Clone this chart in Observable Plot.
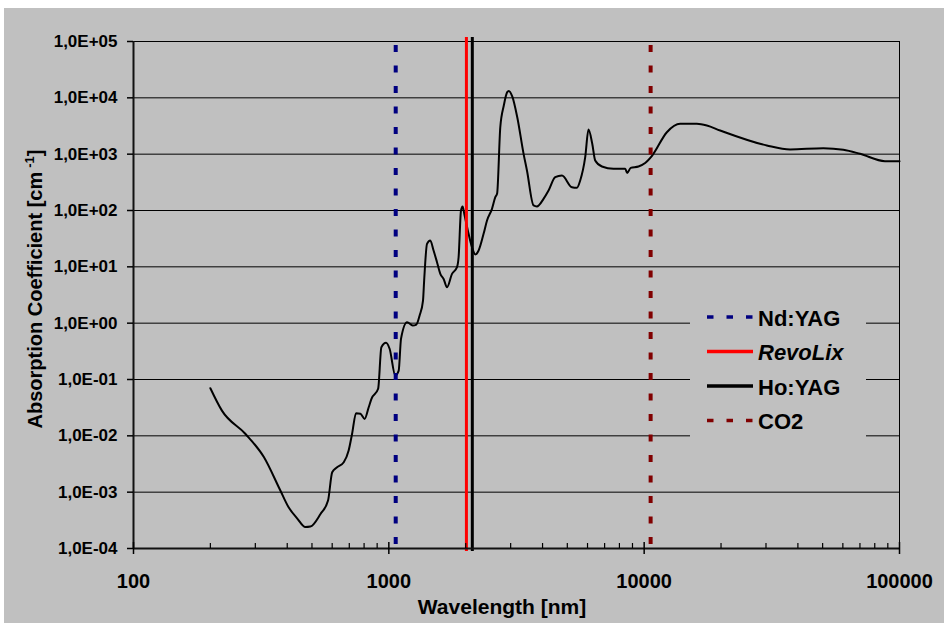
<!DOCTYPE html>
<html><head><meta charset="utf-8">
<script src="https://cdn.jsdelivr.net/npm/d3@7"></script>
<script src="https://cdn.jsdelivr.net/npm/@observablehq/plot@0.6"></script>
<style>
html,body{margin:0;padding:0;background:#fff;}
#chart{position:absolute;left:4px;top:8px;width:940px;height:615px;background:#c0c0c0;overflow:hidden;}
</style></head><body><div id="chart"></div>
<script>
// Water absorption spectrum
const wavelength = [200, 222, 274, 324, 376, 405, 438, 471, 493, 540, 578, 600, 627, 666, 696, 718, 744, 774, 804, 834, 855, 908, 935, 975, 1007, 1060, 1093, 1116, 1179, 1240, 1282, 1320, 1361, 1375, 1411, 1453, 1497, 1544, 1591, 1639, 1690, 1768, 1849, 1876, 1917, 1945, 1975, 2053, 2117, 2181, 2247, 2350, 2424, 2535, 2612, 2655, 2732, 2820, 2908, 2950, 3043, 3184, 3371, 3475, 3687, 3802, 4035, 4222, 4484, 4764, 5212, 5453, 5617, 5876, 6053, 6259, 6430, 6831, 7585, 8428, 8582, 8856, 9500, 10090, 10750, 12270, 13830, 16080, 17600, 19840, 30220, 37270, 50330, 60250, 70040, 87740, 100000];
const absorption = [0.070, 0.028, 0.0109, 0.0042, 0.00107, 5.4e-4, 3.4e-4, 2.4e-4, 2.45e-4, 4.1e-4, 7.1e-4, 2.26e-3, 2.77e-3, 3.4e-3, 5.5e-3, 0.0109, 0.0252, 0.0246, 0.0200, 0.0322, 0.0454, 0.0684, 0.374, 0.448, 0.351, 0.118, 0.144, 0.527, 1.04, 0.908, 0.946, 1.37, 2.52, 5.7, 25.6, 29.3, 19.5, 12.1, 7.5, 6.1, 4.35, 7.5, 9.85, 14.8, 100, 118, 87, 38.5, 22.3, 16.6, 19.5, 38.5, 66.4, 107, 172, 200, 3010, 7310, 12600, 13200, 10600, 4530, 1014, 513, 123, 118, 161, 226, 390, 418, 259, 253, 341, 883, 2740, 1546, 771, 604, 550, 550, 463, 572, 604, 697, 946, 2454, 3460, 3460, 3228, 2630, 1425, 1210, 1276, 1195, 1014, 750, 750];

const xTicks = [100, 1000, 10000, 100000];
const xTickLabels = ["100", "1000", "10000", "100000"];
const xMinorTicks = [200, 300, 400, 500, 600, 700, 800, 900, 2000, 3000, 4000, 5000, 6000, 7000, 8000, 9000, 20000, 30000, 40000, 50000, 60000, 70000, 80000, 90000];
const yTicks = [1e-4, 1e-3, 1e-2, 1e-1, 1e0, 1e1, 1e2, 1e3, 1e4, 1e5];
const yTickLabels = ["1,0E-04", "1,0E-03", "1,0E-02", "1,0E-01", "1,0E+00", "1,0E+01", "1,0E+02", "1,0E+03", "1,0E+04", "1,0E+05"];

const laserNames = ["Nd:YAG", "RevoLix", "Ho:YAG", "CO2"];
const laserWavelengths = [1064, 2013, 2123, 10600];
const laserColors = ["#000080", "#ff0000", "#000000", "#800000"];
const laserDashed = [true, false, false, true];
const laserItalic = [false, true, false, false];

const font = "'Liberation Sans', Arial, sans-serif";
const W = 940, H = 615;
const data = wavelength.map((w, i) => ({w, a: absorption[i]}));

const laserMarks = laserWavelengths.map((w, i) => laserDashed[i]
  ? Plot.ruleX([w], {stroke: laserColors[i], strokeWidth: 4, strokeDasharray: "7,13.5", strokeDashoffset: 16.5})
  : Plot.ruleX([w], {stroke: laserColors[i], strokeWidth: 3, insetTop: -4, insetBottom: -3}));

const plot = Plot.plot({
  width: W, height: H,
  marginLeft: 129, marginRight: 45, marginTop: 33, marginBottom: 75,
  style: {background: "transparent", fontFamily: font, color: "#000", overflow: "visible", maxWidth: "none"},
  x: {type: "log", domain: [100, 100000], label: null},
  y: {type: "log", domain: [1e-4, 1e5], label: null},
  marks: [
    Plot.ruleY(yTicks, {stroke: "#000", strokeWidth: 1}),
    Plot.frame({stroke: "#000", strokeWidth: 1}),
    Plot.line(data, {x: "w", y: "a", stroke: "#000", strokeWidth: 2, curve: "monotone-x"}),
    ...laserMarks,
    Plot.ruleX([100], {stroke: "#111", strokeWidth: 2}),
    Plot.ruleY([1e-4], {stroke: "#111", strokeWidth: 2}),
    Plot.axisY(yTicks, {anchor: "left", tickSize: 6, tickPadding: 10, strokeWidth: 1.5,
      tickFormat: d => yTickLabels[yTicks.indexOf(d)], fontSize: 17, fontWeight: "bold", label: null}),
    Plot.axisX(xTicks, {anchor: "bottom", tickSize: 0, tickPadding: 25,
      tickFormat: d => xTickLabels[xTicks.indexOf(d)], fontSize: 20, fontWeight: "bold", label: null}),
    Plot.axisX(xTicks, {anchor: "bottom", tickSize: 12, dy: -6, strokeWidth: 1.5, tickFormat: () => "", label: null}),
    Plot.axisX(xMinorTicks, {anchor: "bottom", tickSize: 5, dy: -5, strokeWidth: 1.2, tickFormat: () => "", label: null})
  ]
});
document.getElementById("chart").appendChild(plot);

const svg = d3.select(plot);
// Axis titles
const yt = svg.append("text")
  .attr("transform", "translate(38,281) rotate(-90)")
  .attr("text-anchor", "middle")
  .style("font-family", font).style("font-size", "20px").style("font-weight", "bold").attr("fill", "#000");
yt.append("tspan").text("Absorption Coefficient [cm\u2009");
yt.append("tspan").attr("dy", -8).style("font-size", "13px").text("-1");
yt.append("tspan").attr("dy", 8).text("]");

svg.append("text")
  .attr("x", 498).attr("y", 606)
  .attr("text-anchor", "middle")
  .style("font-family", font).style("font-size", "21px").style("font-weight", "bold").attr("fill", "#000")
  .text("Wavelength [nm]");

// Legend
const lg = svg.append("g").attr("text-anchor", "start");
lg.append("rect").attr("x", 686).attr("y", 290).attr("width", 176).attr("height", 146).attr("fill", "#c0c0c0");
laserNames.forEach((name, i) => {
  const cy = 309 + i * 34.5;
  lg.append("line").attr("x1", 703).attr("x2", 749).attr("y1", cy).attr("y2", cy)
    .attr("stroke", laserColors[i]).attr("stroke-width", 3.5)
    .attr("stroke-dasharray", laserDashed[i] ? "6.5,13" : null);
  lg.append("text").attr("x", 754).attr("y", cy + 8.5)
    .attr("text-anchor", "start")
    .style("font-family", font).style("font-size", "22px").style("font-weight", "bold")
    .style("font-style", laserItalic[i] ? "italic" : "normal").attr("fill", "#000")
    .text(name);
});
</script>
</body></html>
